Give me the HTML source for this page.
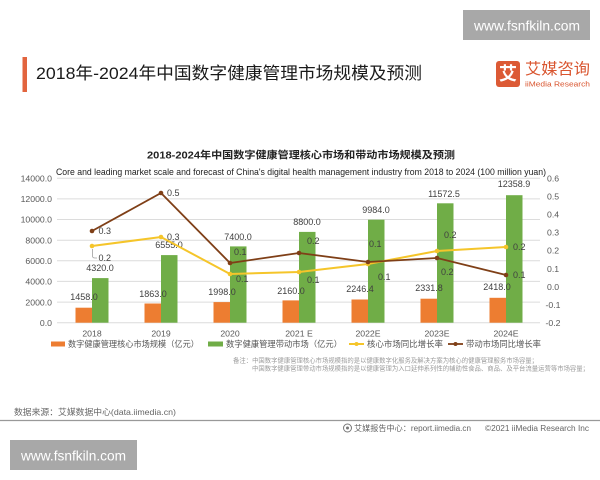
<!DOCTYPE html>
<html><head><meta charset="utf-8"><style>
html,body{margin:0;padding:0;background:#fff;}
svg{display:block;font-family:"Liberation Sans","Noto Sans CJK SC",sans-serif;}
</style></head><body>
<svg width="600" height="480" viewBox="0 0 600 480" xmlns="http://www.w3.org/2000/svg">
<rect width="600" height="480" fill="#fff"/>
<!-- top watermark -->
<rect x="463" y="10" width="127" height="30" fill="#a8a8a8"/>
<text x="474" y="30.5" font-size="14" fill="#fff" textLength="106" lengthAdjust="spacingAndGlyphs">www.fsnfkiln.com</text>
<!-- header -->
<rect x="22.5" y="57" width="4.5" height="35" fill="#e2643e"/>
<text x="36" y="79" font-size="17" fill="#1a1a1a" textLength="386" lengthAdjust="spacingAndGlyphs">2018年-2024年中国数字健康管理市场规模及预测</text>
<rect x="496" y="61" width="24" height="26" rx="3" fill="#dc5a35"/>
<text x="508" y="80" font-size="18" font-weight="bold" fill="#fff" text-anchor="middle">艾</text>
<text x="525" y="74" font-size="15.5" fill="#d9552f" textLength="65" lengthAdjust="spacingAndGlyphs">艾媒咨询</text>
<text x="525" y="86.5" font-size="7" fill="#d9552f" textLength="65" lengthAdjust="spacingAndGlyphs">iiMedia Research</text>
<!-- chart title -->
<text x="147" y="158.5" font-size="10.3" font-weight="bold" fill="#222" textLength="308" lengthAdjust="spacingAndGlyphs">2018-2024年中国数字健康管理核心市场和带动市场规模及预测</text>
<text x="56" y="175" font-size="9" fill="#222" textLength="490" lengthAdjust="spacingAndGlyphs">Core and leading market scale and forecast of China's digital health management industry from 2018 to 2024 (100 million yuan)</text>
<!-- gridlines -->
<g stroke="#dcdcdc" stroke-width="1">
<line x1="57" y1="178.3" x2="540" y2="178.3"/>
<line x1="57" y1="198.9" x2="540" y2="198.9"/>
<line x1="57" y1="219.5" x2="540" y2="219.5"/>
<line x1="57" y1="240.2" x2="540" y2="240.2"/>
<line x1="57" y1="260.8" x2="540" y2="260.8"/>
<line x1="57" y1="281.4" x2="540" y2="281.4"/>
<line x1="57" y1="302.1" x2="540" y2="302.1"/>
<line x1="57" y1="322.7" x2="540" y2="322.7"/>
</g>
<!-- left axis labels -->
<g font-size="8.7" fill="#595959" text-anchor="end">
<text x="52" y="181.5">14000.0</text>
<text x="52" y="202.1">12000.0</text>
<text x="52" y="222.7">10000.0</text>
<text x="52" y="243.4">8000.0</text>
<text x="52" y="264">6000.0</text>
<text x="52" y="284.6">4000.0</text>
<text x="52" y="305.3">2000.0</text>
<text x="52" y="325.9">0.0</text>
</g>
<!-- right axis labels -->
<g font-size="8.7" fill="#595959">
<text x="547" y="181.5">0.6</text>
<text x="547" y="199.6">0.5</text>
<text x="547" y="217.6">0.4</text>
<text x="547" y="235.7">0.3</text>
<text x="547" y="253.7">0.2</text>
<text x="547" y="271.8">0.1</text>
<text x="547" y="289.8">0.0</text>
<text x="545.5" y="307.9">-0.1</text>
<text x="545.5" y="325.9">-0.2</text>
</g>
<!-- bars -->
<g fill="#ed7d31">
<rect x="75.5" y="307.7" width="16.5" height="15"/>
<rect x="144.5" y="303.5" width="16.5" height="19.2"/>
<rect x="213.5" y="302.1" width="16.5" height="20.6"/>
<rect x="282.5" y="300.4" width="16.5" height="22.3"/>
<rect x="351.5" y="299.5" width="16.5" height="23.2"/>
<rect x="420.5" y="298.7" width="16.5" height="24"/>
<rect x="489.5" y="297.8" width="16.5" height="24.9"/>
</g>
<g fill="#70ad47">
<rect x="92" y="278.1" width="16.5" height="44.6"/>
<rect x="161" y="255.1" width="16.5" height="67.6"/>
<rect x="230" y="246.4" width="16.5" height="76.3"/>
<rect x="299" y="231.9" width="16.5" height="90.8"/>
<rect x="368" y="219.7" width="16.5" height="103"/>
<rect x="437" y="203.3" width="16.5" height="119.4"/>
<rect x="506" y="195.2" width="16.5" height="127.5"/>
</g>
<!-- bar labels -->
<g font-size="9" fill="#404040" text-anchor="middle">
<text x="84" y="300.2">1458.0</text>
<text x="153" y="297.2">1863.0</text>
<text x="222" y="295.2">1998.0</text>
<text x="291" y="294.2">2160.0</text>
<text x="360" y="292.2">2246.4</text>
<text x="429" y="291.2">2331.8</text>
<text x="497" y="290.2">2418.0</text>
<text x="100" y="271.2">4320.0</text>
<text x="169" y="248.2">6555.0</text>
<text x="238" y="240.2">7400.0</text>
<text x="307" y="225.2">8800.0</text>
<text x="376" y="213.2">9984.0</text>
<text x="444" y="197.2">11572.5</text>
<text x="514" y="187.2">12358.9</text>
</g>
<!-- yellow line -->
<polyline points="92,246 161,237 230,274 299,272 368,264 437,251 506,247" fill="none" stroke="#f5c52a" stroke-width="2"/>
<g fill="#f5c52a">
<circle cx="92" cy="246" r="2.3"/><circle cx="161" cy="237" r="2.3"/><circle cx="230" cy="274" r="2.3"/><circle cx="299" cy="272" r="2.3"/><circle cx="368" cy="264" r="2.3"/><circle cx="437" cy="251" r="2.3"/><circle cx="506" cy="247" r="2.3"/>
</g>
<!-- brown line -->
<polyline points="92,231 161,193 230,263 299,253 368,262 437,258 506,275" fill="none" stroke="#7f3f17" stroke-width="1.8"/>
<g fill="#7f3f17">
<circle cx="92" cy="231" r="2.3"/><circle cx="161" cy="193" r="2.3"/><circle cx="230" cy="263" r="2.3"/><circle cx="299" cy="253" r="2.3"/><circle cx="368" cy="262" r="2.3"/><circle cx="437" cy="258" r="2.3"/><circle cx="506" cy="275" r="2.3"/>
</g>
<!-- leader -->
<path d="M92.5,249 L92.5,256 Q92.5,258 95,258 L97,258" fill="none" stroke="#a0a0a0" stroke-width="0.8"/>
<!-- line labels -->
<g font-size="9" fill="#404040">
<text x="98.5" y="234.2">0.3</text>
<text x="98.5" y="261.2">0.2</text>
<text x="167" y="196.2">0.5</text>
<text x="167" y="240.2">0.3</text>
<text x="234" y="255.2">0.1</text>
<text x="236" y="282.2">0.1</text>
<text x="307" y="244.2">0.2</text>
<text x="307" y="283.2">0.1</text>
<text x="369" y="247.2">0.1</text>
<text x="378" y="280.2">0.1</text>
<text x="444" y="238.2">0.2</text>
<text x="441" y="275.2">0.2</text>
<text x="513" y="250.2">0.2</text>
<text x="513" y="278.2">0.1</text>
</g>
<!-- category labels -->
<g font-size="8.7" fill="#595959" text-anchor="middle">
<text x="92" y="336.3">2018</text>
<text x="161" y="336.3">2019</text>
<text x="230" y="336.3">2020</text>
<text x="299" y="336.3">2021 E</text>
<text x="368" y="336.3">2022E</text>
<text x="437" y="336.3">2023E</text>
<text x="506" y="336.3">2024E</text>
</g>
<!-- legend -->
<rect x="51" y="341.5" width="14" height="5" fill="#ed7d31"/>
<text x="68" y="347" font-size="8.3" fill="#555" textLength="131" lengthAdjust="spacingAndGlyphs">数字健康管理核心市场规模（亿元）</text>
<rect x="208" y="341.5" width="15" height="5" fill="#70ad47"/>
<text x="226" y="347" font-size="8.3" fill="#555" textLength="116" lengthAdjust="spacingAndGlyphs">数字健康管理带动市场（亿元）</text>
<line x1="349" y1="344" x2="364" y2="344" stroke="#f5c52a" stroke-width="2"/>
<circle cx="356.5" cy="344" r="2" fill="#f5c52a"/>
<text x="367" y="347" font-size="8.3" fill="#555" textLength="76" lengthAdjust="spacingAndGlyphs">核心市场同比增长率</text>
<line x1="448" y1="344" x2="463" y2="344" stroke="#7f3f17" stroke-width="1.8"/>
<circle cx="455.5" cy="344" r="2" fill="#7f3f17"/>
<text x="466" y="347" font-size="8.3" fill="#555" textLength="75" lengthAdjust="spacingAndGlyphs">带动市场同比增长率</text>
<!-- notes -->
<text x="233" y="362.3" font-size="6.3" fill="#9a9a9a" textLength="305" lengthAdjust="spacingAndGlyphs">备注：中国数字健康管理核心市场规模指的是以健康数字化服务及解决方案为核心的健康管理服务市场容量；</text>
<text x="252" y="370.3" font-size="6.3" fill="#9a9a9a" textLength="337" lengthAdjust="spacingAndGlyphs">中国数字健康管理带动市场规模指的是以健康管理为入口延伸系列性的辅助性食品、商品、及平台流量运营等市场容量；</text>
<!-- source -->
<text x="14" y="415" font-size="8.5" fill="#666" textLength="162" lengthAdjust="spacingAndGlyphs">数据来源：艾媒数据中心(data.iimedia.cn)</text>
<line x1="0" y1="420.5" x2="600" y2="420.5" stroke="#999" stroke-width="1.3"/>
<!-- footer -->
<circle cx="347.5" cy="428" r="4" fill="none" stroke="#777" stroke-width="1"/>
<circle cx="347.5" cy="428" r="1.5" fill="#777"/>
<text x="354" y="431" font-size="8" fill="#666" textLength="117" lengthAdjust="spacingAndGlyphs">艾媒报告中心：report.iimedia.cn</text>
<text x="485" y="431" font-size="8" fill="#666" textLength="104" lengthAdjust="spacingAndGlyphs">©2021  iiMedia Research  Inc</text>
<!-- bottom watermark -->
<rect x="10" y="440" width="127" height="30" fill="#a8a8a8"/>
<text x="21" y="460.5" font-size="14" fill="#fff" textLength="105" lengthAdjust="spacingAndGlyphs">www.fsnfkiln.com</text>
</svg>
</body></html>
